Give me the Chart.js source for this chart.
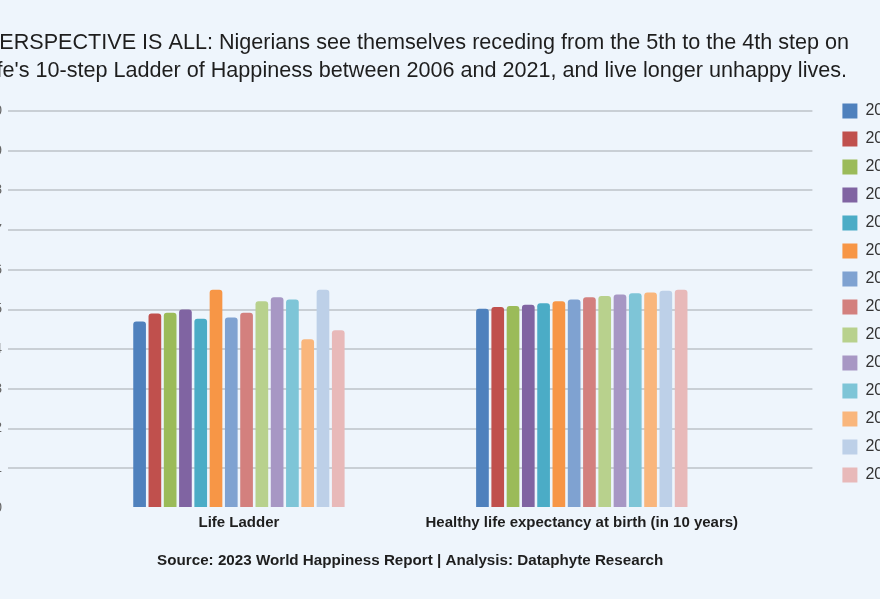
<!DOCTYPE html>
<html>
<head>
<meta charset="utf-8">
<script src="https://cdn.jsdelivr.net/npm/chart.js@4.4.1/dist/chart.umd.min.js"></script>
<style>
  html, body { margin: 0; padding: 0; background: #eef5fc; overflow: hidden; width: 880px; height: 599px; }
  #wrap { position: absolute; left: -77px; top: 0; width: 988px; height: 599px; }
  canvas { display: block; }
</style>
</head>
<body>
<div id="wrap"><canvas id="c" width="988" height="599"></canvas></div>
<script>
// ---- data ----
const categories = ['Life Ladder', 'Healthy life expectancy at birth (in 10 years)'];
const years = ['2006', '2008', '2009', '2010', '2011', '2012', '2013', '2014', '2015', '2016', '2017', '2018', '2019', '2021'];
const lifeLadder = [4.70, 4.90, 4.92, 5.00, 4.77, 5.50, 4.80, 4.92, 5.21, 5.31, 5.25, 4.25, 5.50, 4.48];
const healthyLife = [5.02, 5.06, 5.09, 5.12, 5.16, 5.21, 5.25, 5.31, 5.34, 5.38, 5.41, 5.43, 5.47, 5.50];
const yTicks = [0, 1, 2, 3, 4, 5, 6, 7, 8, 9, 10];
const titleLines = [
  'PERSPECTIVE IS ALL: Nigerians see themselves receding from the 5th to the 4th step on',
  "life's 10-step Ladder of Happiness between 2006 and 2021, and live longer unhappy lives."
];
const sourceText = 'Source: 2023 World Happiness Report | Analysis: Dataphyte Research';

// ---- styles ----
const colors = ['#4f81bd', '#c0504d', '#9bbb59', '#8064a2', '#4bacc6', '#f79646',
                '#7fa2d1', '#d3807e', '#b8d18d', '#a797c4', '#7ec5d7', '#f9b67c', '#bdd0e8', '#e8b9b9'];
const FONT = "'Liberation Sans', Arial, sans-serif";

const datasets = years.map((yr, i) => ({
  label: yr,
  data: [{ x: 0, y: lifeLadder[i] }, { x: 1, y: healthyLife[i] }],
  backgroundColor: colors[i],
  borderWidth: 0,
  borderRadius: 3,
  categoryPercentage: 0.624,
  barPercentage: 0.83
}));

new Chart(document.getElementById('c'), {
  type: 'bar',
  data: { datasets },
  options: {
    responsive: false,
    animation: false,
    devicePixelRatio: 1,
    layout: { padding: { left: 0, right: 0, top: 0, bottom: 13 } },
    plugins: {
      tooltip: { enabled: false },
      title: {
        display: true,
        text: titleLines,
        color: '#1e1e1e',
        font: { family: FONT, size: 21.6, weight: 'normal', lineHeight: 28 / 21.6 },
        padding: { top: 29, bottom: 26 }
      },
      legend: {
        position: 'right',
        align: 'center',
        labels: {
          color: '#333',
          font: { family: FONT, size: 16 },
          boxWidth: 15,
          boxHeight: 15,
          padding: 12
        }
      }
    },
    scales: {
      x: {
        type: 'linear',
        min: -0.6735,
        max: 1.6726,
        offset: false,
        grid: { display: false },
        border: { display: false },
        afterBuildTicks: (s) => { s.ticks = categories.map((c, i) => ({ value: i })); },
        afterFit: (s) => { s.height = 78; },
        ticks: {
          autoSkip: false,
          maxRotation: 0,
          padding: -2,
          color: '#1e1e1e',
          font: { family: FONT, size: 15, weight: 'bold' },
          callback: (v) => categories[v]
        },
        title: {
          display: true,
          text: sourceText,
          color: '#1e1e1e',
          font: { family: FONT, size: 15.2, weight: 'bold' },
          padding: { top: 0, bottom: 16 }
        }
      },
      y: {
        min: 0,
        max: 10,
        afterBuildTicks: (s) => { s.ticks = yTicks.map(v => ({ value: v })); },
        afterFit: (s) => { s.width = 85; },
        border: { display: false },
        grid: {
          drawTicks: false,
          lineWidth: 2,
          color: (ctx) => (ctx.tick && ctx.tick.value === 0) ? 'rgba(0,0,0,0)' : '#c9cfd5'
        },
        ticks: {
          padding: 6,
          color: '#666',
          font: { family: FONT, size: 14 }
        }
      },
      yr: {
        position: 'right',
        display: true,
        grid: { display: false },
        border: { display: false },
        ticks: { display: false },
        afterFit: (s) => { s.width = 18; }
      }
    }
  }
});
</script>
</body>
</html>
